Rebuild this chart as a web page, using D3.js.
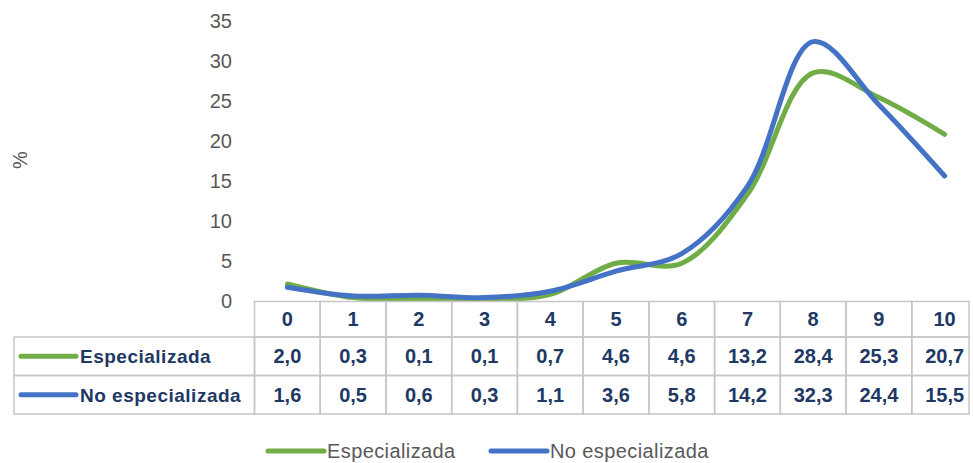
<!DOCTYPE html>
<html>
<head>
<meta charset="utf-8">
<script src="https://cdn.jsdelivr.net/npm/d3@7"></script>
<style>
  html, body { margin: 0; padding: 0; background: #fff; }
  svg { display: block; }
</style>
</head>
<body>
<svg id="chart" width="973" height="463"></svg>
<script>
// Puntuaciones 0–10 y porcentaje de respuestas por tipo de atención
const categories = ["0", "1", "2", "3", "4", "5", "6", "7", "8", "9", "10"];
const seriesNames = ["Especializada", "No especializada"];
const especializada = [2.0, 0.3, 0.1, 0.1, 0.7, 4.6, 4.6, 13.2, 28.4, 25.3, 20.7];
const noEspecializada = [1.6, 0.5, 0.6, 0.3, 1.1, 3.6, 5.8, 14.2, 32.3, 24.4, 15.5];
const yTicks = [0, 5, 10, 15, 20, 25, 30, 35];
const yLabel = "%";

const colors = { "Especializada": "#70AD47", "No especializada": "#4472C4" };
const series = [
  { name: seriesNames[0], values: especializada },
  { name: seriesNames[1], values: noEspecializada }
];

const svg = d3.select("#chart");
const fmt = v => d3.format(".1f")(v).replace(".", ",");

// Layout
const tableLeft = 14, tableRight = 969;
const colStart = 254.5, colEnd = 977.5;
const headerTop = 301.5, rowH = [35.5, 38.5, 38.5];

const x = d3.scaleBand().domain(categories).range([colStart, colEnd]);
const cx = c => x(c) + x.bandwidth() / 2;
const y = d3.scaleLinear().domain([0, 35]).range([300, 20]);

// Y axis (labels only)
const yAxis = d3.axisLeft(y).tickValues(yTicks).tickSize(0).tickPadding(0).tickFormat(d3.format("d"));
const gy = svg.append("g").attr("transform", "translate(232,0)").call(yAxis);
gy.select(".domain").remove();
gy.selectAll("text")
  .attr("fill", "#595959")
  .style("font-family", "'Liberation Sans', Arial, sans-serif")
  .style("font-size", "20px")
  .attr("dy", "0.35em");

svg.append("text")
  .attr("transform", "translate(27,160) rotate(-90)")
  .attr("text-anchor", "middle")
  .attr("fill", "#595959")
  .style("font-family", "'Liberation Sans', Arial, sans-serif")
  .style("font-size", "20px")
  .text(yLabel);

// Smoothed lines
const line = d3.line()
  .x((d, i) => cx(categories[i]))
  .y(d => y(d))
  .curve(d3.curveCatmullRom.alpha(0.5));

svg.append("g").selectAll("path")
  .data(series)
  .join("path")
  .attr("d", d => line(d.values))
  .attr("fill", "none")
  .attr("stroke", d => colors[d.name])
  .attr("stroke-width", 5)
  .attr("stroke-linecap", "round")
  .attr("stroke-linejoin", "round");

// Data table
const tbl = svg.append("g");
const borderColor = "#c6c6c6";
const textColor = "#203864";
const row1Top = headerTop + rowH[0];
const row2Top = row1Top + rowH[1];

const colRight = c => Math.min(x(c) + x.bandwidth(), tableRight);

// Header cells
tbl.selectAll("rect.head")
  .data(categories)
  .join("rect")
  .attr("class", "head")
  .attr("x", c => x(c))
  .attr("y", headerTop)
  .attr("width", c => colRight(c) - x(c))
  .attr("height", rowH[0])
  .attr("fill", "none")
  .attr("stroke", borderColor)
  .attr("stroke-width", 1.5);

// Data rows
series.forEach((s, si) => {
  const top = si === 0 ? row1Top : row2Top;
  tbl.append("rect")
    .attr("x", tableLeft).attr("y", top)
    .attr("width", colStart - tableLeft).attr("height", rowH[si + 1])
    .attr("fill", "none").attr("stroke", borderColor).attr("stroke-width", 1.5);
  tbl.selectAll("rect.cell" + si)
    .data(categories)
    .join("rect")
    .attr("class", "cell" + si)
    .attr("x", c => x(c))
    .attr("y", top)
    .attr("width", c => colRight(c) - x(c))
    .attr("height", rowH[si + 1])
    .attr("fill", "none")
    .attr("stroke", borderColor)
    .attr("stroke-width", 1.5);

  const midY = top + rowH[si + 1] / 2;
  tbl.append("line")
    .attr("x1", 21).attr("x2", 76)
    .attr("y1", midY).attr("y2", midY)
    .attr("stroke", colors[s.name]).attr("stroke-width", 5).attr("stroke-linecap", "round");
  tbl.append("text")
    .attr("x", 80).attr("y", midY).attr("dy", "0.36em")
    .attr("fill", textColor)
    .style("font-family", "'Liberation Sans', Arial, sans-serif")
    .style("font-size", "19px").style("font-weight", "bold")
    .style("letter-spacing", "0.5px")
    .text(s.name);
  tbl.selectAll("text.v" + si)
    .data(s.values)
    .join("text")
    .attr("class", "v" + si)
    .attr("x", (d, i) => cx(categories[i]))
    .attr("y", midY).attr("dy", "0.36em")
    .attr("text-anchor", "middle")
    .attr("fill", textColor)
    .style("font-family", "'Liberation Sans', Arial, sans-serif")
    .style("font-size", "20px").style("font-weight", "bold")
    .text(d => fmt(d));
});

tbl.selectAll("text.h")
  .data(categories)
  .join("text")
  .attr("class", "h")
  .attr("x", c => cx(c))
  .attr("y", headerTop + rowH[0] / 2).attr("dy", "0.36em")
  .attr("text-anchor", "middle")
  .attr("fill", textColor)
  .style("font-family", "'Liberation Sans', Arial, sans-serif")
  .style("font-size", "20px").style("font-weight", "bold")
  .text(c => c);

// Legend
const legendItems = [
  { name: seriesNames[0], x0: 268 },
  { name: seriesNames[1], x0: 491 }
];
const lg = svg.append("g");
legendItems.forEach(it => {
  lg.append("line")
    .attr("x1", it.x0).attr("x2", it.x0 + 56)
    .attr("y1", 451).attr("y2", 451)
    .attr("stroke", colors[it.name]).attr("stroke-width", 5).attr("stroke-linecap", "round");
  lg.append("text")
    .attr("x", it.x0 + 59).attr("y", 451).attr("dy", "0.35em")
    .attr("fill", "#595959")
    .style("font-family", "'Liberation Sans', Arial, sans-serif")
    .style("font-size", "20px")
    .style("letter-spacing", "0.4px")
    .text(it.name);
});
</script>
</body>
</html>
